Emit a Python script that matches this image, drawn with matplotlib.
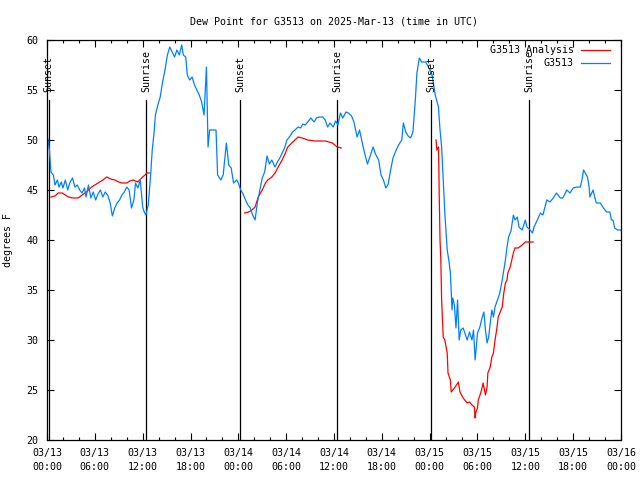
import matplotlib
matplotlib.use("Agg")
import matplotlib.pyplot as plt
from matplotlib.ticker import MultipleLocator

# hours since 03/13 00:00 UTC
obs_hours = [0.1, 0.3, 0.5, 0.8, 1.0, 1.3, 1.5, 1.8, 2.0, 2.3, 2.6, 2.9, 3.2, 3.5, 3.8,
             4.1, 4.4, 4.7, 4.9, 5.2, 5.5, 5.8, 6.1, 6.4, 6.7, 7.0, 7.3, 7.6, 7.9, 8.2,
             8.5, 8.8, 9.1, 9.4, 9.7, 10.0, 10.3, 10.6, 10.9, 11.1, 11.4, 11.7, 12.0, 12.2,
             12.4, 12.7, 13.0, 13.2, 13.4, 13.6, 13.9, 14.2, 14.5, 14.8, 15.1, 15.4, 15.7,
             16.0, 16.3, 16.6, 16.9, 17.1, 17.4, 17.6, 17.9, 18.2, 18.5, 18.8, 19.1, 19.4,
             19.7, 20.0, 20.2, 20.4, 20.8, 21.2, 21.4, 21.8, 22.1, 22.5, 22.8, 23.1, 23.4,
             23.8, 24.0, 24.3, 24.6, 24.9, 25.2, 25.5, 25.8, 26.1, 26.4, 26.7, 27.0, 27.3,
             27.6, 27.9, 28.2, 28.6, 28.9, 29.2, 29.5, 29.8, 30.1, 30.5, 30.8, 31.1, 31.5,
             31.8, 32.1, 32.4, 32.8, 33.1, 33.5, 33.8, 34.2, 34.6, 34.9, 35.2, 35.5, 35.9,
             36.2, 36.5, 36.8, 37.1, 37.5, 37.8, 38.2, 38.5, 38.9, 39.2, 39.6, 39.9, 40.2,
             40.5, 40.9, 41.2, 41.6, 41.9, 42.2, 42.5, 42.8, 43.1, 43.4, 43.8, 44.1, 44.5,
             44.7, 45.0, 45.3, 45.6, 45.9, 46.2, 46.4, 46.7, 47.0, 47.5, 47.9, 48.3, 48.7,
             49.1, 49.3, 49.5, 49.7, 49.9, 50.2, 50.4, 50.6, 50.8, 50.9, 51.1, 51.3, 51.5,
             51.7, 51.9, 52.2, 52.5, 52.7, 53.0, 53.3, 53.5, 53.7, 54.0, 54.3, 54.6, 54.8,
             55.0, 55.2, 55.4, 55.6, 55.8, 56.0, 56.2, 56.5, 56.8, 57.1, 57.3, 57.5, 57.7,
             57.9, 58.2, 58.5, 58.7, 59.0, 59.2, 59.6, 60.0, 60.2, 60.6, 60.9, 61.1, 61.5,
             61.9, 62.2, 62.7, 63.1, 63.5, 63.9, 64.4, 64.7, 65.2, 65.6, 66.0, 66.5, 66.9,
             67.1, 67.3, 67.8, 68.0, 68.1, 68.5, 68.7, 68.9, 69.4, 69.8, 70.2, 70.6, 70.8,
             71.0, 71.2, 71.6, 72.0]
obs_dewpt = [50.2, 49.0, 46.8, 46.5, 45.5, 46.0, 45.3, 45.8, 45.2, 46.0, 45.0, 45.8, 46.2, 45.3, 45.5,
             45.0, 44.7, 45.2, 44.3, 45.5, 44.2, 44.8, 44.0, 44.6, 45.0, 44.3, 44.8, 44.5, 43.8, 42.4,
             43.2, 43.7, 44.0, 44.5, 44.8, 45.3, 45.0, 43.2, 44.0, 45.7, 45.2, 46.0, 43.3, 42.8,
             42.5, 43.5, 46.5, 49.0, 50.5, 52.5, 53.5, 54.3, 55.8, 57.0, 58.5, 59.3, 58.8,
             58.3, 59.0, 58.5, 59.5, 58.5, 58.3, 56.5, 56.0, 56.3, 55.5, 55.0, 54.5, 53.8,
             52.5, 57.3, 49.3, 51.0, 51.0, 51.0, 46.5, 46.0, 46.5, 49.7, 47.5, 47.2, 45.7,
             46.0, 45.7, 45.0, 44.6, 44.0, 43.5, 43.2, 42.5, 42.0, 43.8, 45.0, 46.2, 46.8,
             48.4, 47.6, 48.0, 47.3, 47.8, 48.2, 48.7, 49.2, 50.0, 50.4, 50.8, 51.0, 51.3,
             51.2, 51.6, 51.5, 51.9, 52.2, 51.8, 52.2, 52.3, 52.3, 52.0, 51.3, 51.7, 51.3,
             51.9, 51.5, 52.7, 52.2, 52.8, 52.7, 52.4, 51.8, 50.3, 51.0, 49.5, 48.5, 47.6,
             48.3, 49.3, 48.6, 48.0, 46.5, 46.0, 45.2, 45.6, 47.0, 48.2, 49.0, 49.5, 50.0,
             51.7, 50.8, 50.4, 50.2, 50.8, 54.0, 56.7, 58.2, 57.8, 57.8, 57.2, 56.5, 54.5,
             53.3, 51.0, 49.3, 46.0, 42.7, 39.0, 38.0, 36.7, 33.0, 34.2, 33.5, 31.2, 34.0,
             30.0, 31.0, 31.2, 30.5, 30.0, 30.8, 30.0, 31.0, 28.0, 30.7, 31.3, 32.3, 32.8,
             31.0, 29.7, 30.3, 31.7, 33.0, 32.3, 33.3, 34.0, 34.7, 36.0, 37.0, 38.0, 39.3,
             40.3, 40.9, 42.5, 42.0, 42.3, 41.3, 41.0, 42.0, 41.3, 41.0, 40.7, 41.3, 42.0,
             42.7, 42.5, 44.0, 43.8, 44.2, 44.7, 44.2, 44.2, 45.0, 44.7, 45.2, 45.3, 45.3,
             46.0, 47.0, 46.3, 45.3, 44.3, 45.0, 44.3, 43.7, 43.7, 43.2, 42.8, 42.8, 42.0,
             42.0, 41.2, 41.0, 41.0]

# analysis series, three separate runs
ana1_hours = [0.5, 1.0, 1.4, 1.9, 2.3, 2.7, 3.2, 3.9, 4.4, 4.8, 5.2, 5.6, 6.0, 6.4, 7.0,
              7.5, 8.0, 8.5, 9.0, 9.4, 10.0, 10.4, 10.8, 11.4, 12.0, 12.3, 12.5, 12.9]
ana1_dewpt = [44.3, 44.4, 44.7, 44.7, 44.5, 44.3, 44.2, 44.2, 44.5, 44.7, 45.0, 45.3, 45.5, 45.7, 46.0,
              46.3, 46.1, 46.0, 45.8, 45.7, 45.7, 45.9, 46.0, 45.8, 46.3, 46.5, 46.7, 46.7]
ana2_hours = [24.8, 25.3, 25.7, 26.1, 26.5, 27.0, 27.4, 27.7, 28.2, 28.6, 29.0, 29.5, 29.9,
              30.2, 30.7, 31.1, 31.5, 32.0, 32.7, 33.6, 34.9, 35.8, 36.4, 36.9]
ana2_dewpt = [42.7, 42.8, 43.0, 43.3, 44.3, 45.0, 45.7, 46.0, 46.3, 46.7, 47.3, 48.0, 48.7,
              49.3, 49.7, 50.0, 50.3, 50.2, 50.0, 49.9, 49.9, 49.7, 49.3, 49.2]
ana3_hours = [48.8, 48.9, 49.1, 49.15, 49.2, 49.3, 49.4, 49.5, 49.7, 49.9, 50.2, 50.3, 50.6,
              50.7, 51.2, 51.6, 51.8, 52.2, 52.7, 53.0, 53.3, 53.6, 53.7, 53.8, 54.0, 54.1,
              54.4, 54.6, 54.7, 55.0, 55.2, 55.3, 55.6, 55.8, 56.0, 56.2, 56.4, 56.6, 56.8,
              57.1, 57.3, 57.5, 57.7, 57.8, 58.1, 58.3, 58.5, 58.7, 59.1, 59.6, 60.0, 61.0]
ana3_dewpt = [50.0, 49.0, 49.3, 47.3, 44.3, 40.0, 38.0, 34.0, 30.3, 30.0, 28.7, 26.7, 26.0,
              24.8, 25.3, 25.8, 24.8, 24.2, 23.7, 23.8, 23.5, 23.3, 22.2, 22.8, 23.2, 24.0,
              24.7, 25.3, 25.7, 24.5, 25.3, 26.7, 27.3, 28.3, 28.7, 30.0, 31.0, 32.3, 32.7,
              33.3, 34.7, 35.7, 36.0, 36.7, 37.3, 38.0, 38.7, 39.2, 39.2, 39.5, 39.8, 39.8]

sun_hours = [0.2, 12.45, 24.2, 36.4, 48.2, 60.5]
sun_labels = ["Sunset", "Sunrise", "Sunset", "Sunrise", "Sunset", "Sunrise"]

tick_hours = [0, 6, 12, 18, 24, 30, 36, 42, 48, 54, 60, 66, 72]
tick_labels = ["03/13\n00:00", "03/13\n06:00", "03/13\n12:00", "03/13\n18:00",
               "03/14\n00:00", "03/14\n06:00", "03/14\n12:00", "03/14\n18:00",
               "03/15\n00:00", "03/15\n06:00", "03/15\n12:00", "03/15\n18:00",
               "03/16\n00:00"]

plt.rcParams['font.family'] = ['DejaVu Sans Mono']
plt.rcParams['font.size'] = 7.2

red = '#ff0000'
blue = '#0080ff'
lw = 0.9

fig = plt.figure(figsize=(6.4, 4.8), dpi=100)
ax = fig.add_axes([47 / 640, 40 / 480, 574 / 640, 400 / 480])

for h, lab in zip(sun_hours, sun_labels):
    ax.plot([h, h], [20, 54], color='black', lw=lw)
    ax.text(h, 54.8, lab, rotation=90, ha='center', va='bottom')

ax.plot(ana1_hours, ana1_dewpt, color=red, lw=lw)
ax.plot(ana2_hours, ana2_dewpt, color=red, lw=lw)
ax.plot(ana3_hours, ana3_dewpt, color=red, lw=lw)
ax.plot(obs_hours, obs_dewpt, color=blue, lw=lw)

ax.set_xlim(0, 72)
ax.set_ylim(20, 60)
ax.set_xticks(tick_hours)
ax.set_xticklabels(tick_labels, linespacing=1.5)
ax.xaxis.set_minor_locator(MultipleLocator(2))
ax.set_yticks(range(20, 61, 5))
ax.tick_params(which='both', direction='in', top=True, right=True, color='black')
ax.tick_params(which='major', length=5, width=0.8, pad=6)
ax.tick_params(which='minor', length=2.5, width=0.8)
for s in ax.spines.values():
    s.set_linewidth(0.9)

ax.set_ylabel("degrees F", labelpad=10, fontsize=7.2)
ax.set_title("Dew Point for G3513 on 2025-Mar-13 (time in UTC)", pad=11, fontsize=7.2)

# legend drawn by hand, text right aligned like the original
ax.text(0.918, 0.975, "G3513 Analysis", transform=ax.transAxes, ha='right', va='center')
ax.plot([0.930, 0.981], [0.975, 0.975], color=red, lw=lw, transform=ax.transAxes)
ax.text(0.918, 0.9425, "G3513", transform=ax.transAxes, ha='right', va='center')
ax.plot([0.930, 0.981], [0.9425, 0.9425], color=blue, lw=lw, transform=ax.transAxes)

fig.savefig('out.png', dpi=100)
